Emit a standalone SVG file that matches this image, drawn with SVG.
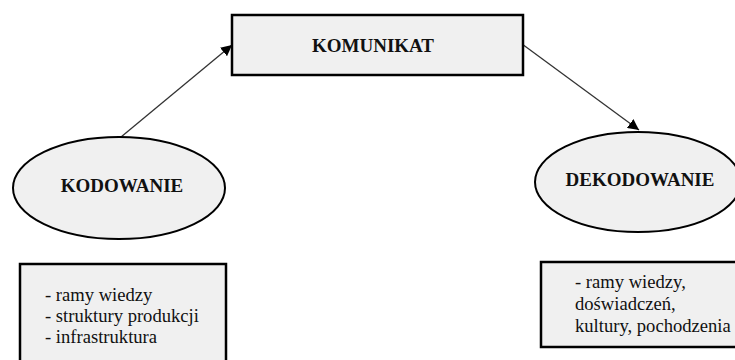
<svg xmlns="http://www.w3.org/2000/svg" width="735" height="360" viewBox="0 0 735 360">
<style>
.box{fill:#f0f0f0;stroke:#000;stroke-width:2.5}
.ell{fill:#f0f0f0;stroke:#000;stroke-width:2}
.title{font-family:"Liberation Serif","Times New Roman",serif;font-weight:bold;font-size:19px;fill:#111;text-anchor:middle}
.body{font-family:"Liberation Serif","Times New Roman",serif;font-size:18.6px;fill:#111}
.conn{stroke:#333;stroke-width:1.3;fill:none;marker-end:url(#arr)}
</style>
<defs>
<marker id="arr" viewBox="0 0 10 10" refX="10" refY="5" markerWidth="11" markerHeight="11" markerUnits="userSpaceOnUse" orient="auto">
<path d="M0,0 L10,5 L0,10 z" fill="#000"/>
</marker>
</defs>
<g id="connectors">
<line class="conn" x1="121" y1="137" x2="232" y2="45"/>
<line class="conn" x1="522" y1="44" x2="639" y2="130"/>
</g>
<g id="komunikat">
<rect class="box" x="232" y="15" width="291" height="60"/>
<text class="title" x="373" y="52">KOMUNIKAT</text>
</g>
<g id="kodowanie">
<ellipse class="ell" cx="119" cy="188" rx="106" ry="51"/>
<text class="title" x="122" y="192">KODOWANIE</text>
</g>
<g id="dekodowanie">
<ellipse class="ell" cx="638" cy="182" rx="103" ry="50"/>
<text class="title" x="640" y="186">DEKODOWANIE</text>
</g>
<g id="kodowanie-details">
<rect class="box" x="20" y="264" width="206" height="110"/>
<text class="body" x="45" y="301">- ramy wiedzy</text>
<text class="body" x="45" y="322">- struktury produkcji</text>
<text class="body" x="45" y="343">- infrastruktura</text>
</g>
<g id="dekodowanie-details">
<rect class="box" x="541" y="262" width="200" height="85"/>
<text class="body" x="575" y="288">- ramy wiedzy,</text>
<text class="body" x="575" y="310">doświadczeń,</text>
<text class="body" x="575" y="332">kultury, pochodzenia</text>
</g>
</svg>
